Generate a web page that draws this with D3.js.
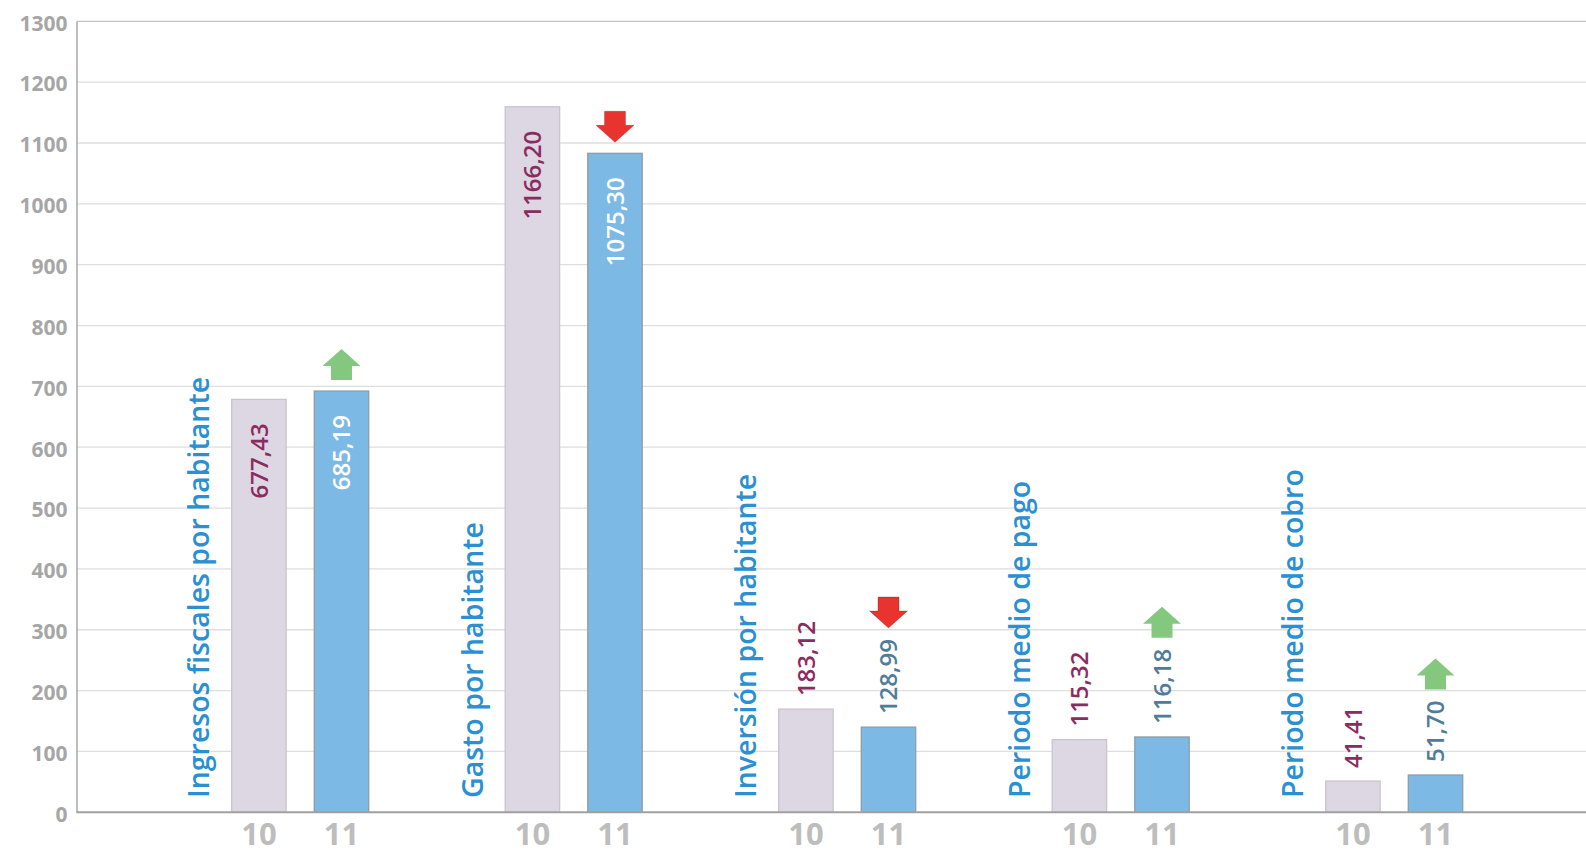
<!DOCTYPE html>
<html><head><meta charset="utf-8">
<script src="https://cdn.jsdelivr.net/npm/d3@7"></script>
<style>html,body{margin:0;padding:0;background:#fff;}svg{display:block;}</style>
</head><body>
<svg id="chart" width="1586" height="854"></svg>
<script>
// ---- data ----
const categories = ["Ingresos fiscales por habitante", "Gasto por habitante", "Inversión por habitante", "Periodo medio de pago", "Periodo medio de cobro"];
const seriesNames = ["10", "11"];
const values10 = [678.6, 1159.6, 169.6, 119.5, 51.4];   // bar heights as drawn
const values11 = [692.3, 1083.0, 140.0, 123.8, 61.3];
const labels10 = [677.43, 1166.20, 183.12, 115.32, 41.41];
const labels11 = [685.19, 1075.30, 128.99, 116.18, 51.70];
const yTicks = [0,100,200,300,400,500,600,700,800,900,1000,1100,1200,1300];

const fmt = v => v.toFixed(2).replace(".", ",");

const svg = d3.select("#chart");
const W = 1586, mLeft = 76.5, mTop = 21.3, mBottom = 812.3;

const y = d3.scaleLinear().domain([0, 1300]).range([mBottom, mTop]);
const x = d3.scaleBand().domain(categories).range([95, 1462.5]).padding(0);
const xi = d3.scaleBand().domain(seriesNames).range([136.7, 273.7]).paddingInner(0.341).paddingOuter(0);

// gridlines
svg.append("g").selectAll("line").data(yTicks.filter(t => t > 0)).join("line")
  .attr("x1", mLeft).attr("x2", W)
  .attr("y1", d => y(d)).attr("y2", d => y(d))
  .attr("stroke", d => d === 1300 ? "#c4c4c4" : "#dedede").attr("stroke-width", 1.3);

// y axis
const yAxis = svg.append("g").attr("transform", `translate(${mLeft},0)`)
  .call(d3.axisLeft(y).tickValues(yTicks).tickFormat(d3.format("d")).tickSize(0).tickPadding(9));
yAxis.select(".domain").attr("stroke", "#a9a9a9").attr("stroke-width", 1.5);
yAxis.selectAll("text").attr("font-family", "Open Sans").attr("font-weight", 700)
  .attr("font-size", 21).attr("fill", "#a6a6a6").attr("dy", "0.42em");

// bars
const rows = categories.map((c, i) => ({c, i, v: [values10[i], values11[i]], l: [labels10[i], labels11[i]]}));
const groups = svg.append("g").selectAll("g").data(rows).join("g")
  .attr("transform", d => `translate(${x(d.c)},0)`);

const barFill = ["#ddd7e3", "#7db9e5"], barStroke = ["#cbc4cf", "#8f9ca6"];
const labOut = ["#8b2c60", "#4f7d99"], labIn = ["#8b2c60", "#ffffff"];

groups.each(function(d) {
  const g = d3.select(this);
  seriesNames.forEach((s, k) => {
    const bx = xi(s), bw = xi.bandwidth(), val = d.v[k];
    g.append("rect").attr("x", bx).attr("y", y(val)).attr("width", bw).attr("height", y(0) - y(val))
      .attr("fill", barFill[k]).attr("stroke", barStroke[k]).attr("stroke-width", 1.3);
    const inside = val > 400;
    const cx = bx + bw / 2;
    const ty = inside ? y(val) + 24 : y(val) - 13;
    const t = g.append("text").attr("transform", `translate(${cx},${ty}) rotate(-90)`)
      .attr("text-anchor", inside ? "end" : "start").attr("dy", "0.36em")
      .attr("font-family", "Open Sans").attr("font-weight", 600).attr("font-size", 24)
      .attr("fill", inside ? labIn[k] : labOut[k]).text(fmt(d.l[k]));
    if (k === 1) {
      const len = t.node().getComputedTextLength();
      const refTop = inside ? y(val) : ty - len;
      const up = d.l[1] >= d.l[0];
      const aw = 38, ah = 31, hh = 17, sw = 21;
      const b = refTop - 11, tp = b - ah;
      let pts;
      if (up) pts = [[cx, tp], [cx + aw/2, tp + hh], [cx + sw/2, tp + hh], [cx + sw/2, b], [cx - sw/2, b], [cx - sw/2, tp + hh], [cx - aw/2, tp + hh]];
      else pts = [[cx, b], [cx + aw/2, b - hh], [cx + sw/2, b - hh], [cx + sw/2, tp], [cx - sw/2, tp], [cx - sw/2, b - hh], [cx - aw/2, b - hh]];
      g.append("path").attr("d", d3.line()(pts) + "Z")
        .attr("fill", up ? "#84c880" : "#e8332f")
        .attr("stroke", up ? "none" : "rgba(120,30,30,0.35)").attr("stroke-width", 0.8);
    }
    // x tick label
    g.append("text").attr("x", cx).attr("y", 845).attr("text-anchor", "middle")
      .attr("font-family", "Open Sans").attr("font-weight", 700).attr("font-size", 31)
      .attr("fill", "#bdbdbd").text(s);
  });
  // category label
  g.append("text").attr("transform", `translate(${xi("10") - 22.7},798) rotate(-90)`)
    .attr("text-anchor", "start").attr("font-family", "Open Sans").attr("font-weight", 600)
    .attr("font-size", 28.5).attr("fill", "#2a90d3").text(d.c);
});

// bottom axis line
svg.append("line").attr("x1", mLeft).attr("x2", W).attr("y1", mBottom).attr("y2", mBottom)
  .attr("stroke", "#a0a0a0").attr("stroke-width", 2);
</script>
</body></html>
